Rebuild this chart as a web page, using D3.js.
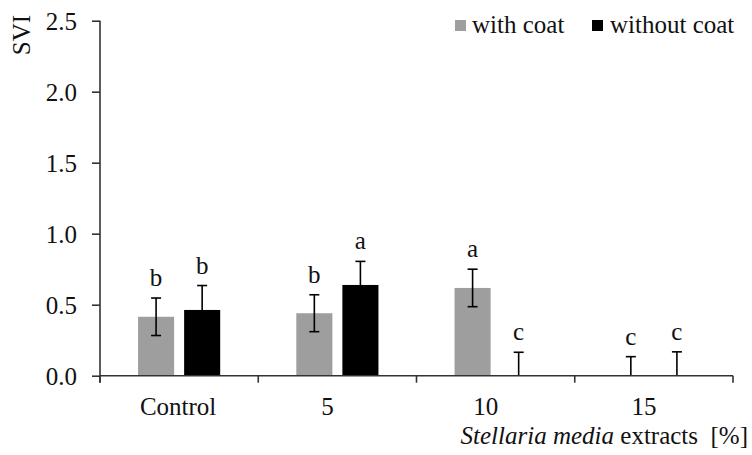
<!DOCTYPE html>
<html><head><meta charset="utf-8">
<script src="https://cdn.jsdelivr.net/npm/d3@7"></script>
</head>
<body style="margin:0;background:#fff">
<svg id="c" width="752" height="455" style="font-family:'Liberation Serif',serif"></svg>
<script>
const categories = ["Control", "5", "10", "15"];
const series = ["with coat", "without coat"];
const withCoat = [0.415, 0.44, 0.618, 0];
const withoutCoat = [0.463, 0.639, 0, 0];
const errWith = [0.132, 0.13, 0.132, 0.134];
const errWithout = [0.172, 0.166, 0.165, 0.168];
const lettersWith = ["b", "b", "a", "c"];
const lettersWithout = ["b", "a", "c", "c"];
const yTicks = [0, 0.5, 1.0, 1.5, 2.0, 2.5];
const colors = ["#9e9e9e", "#000000"];

(function () {
const svg = d3.select("#c");
const mLeft = 100, mRight = 733, mTop = 20.7, mBottom = 375.7;
const x = d3.scaleBand().domain(categories).range([mLeft, mRight]).padding(0);
const xs = d3.scaleBand().domain(series).range([0, x.bandwidth()]).paddingInner(0.217).paddingOuter(0.826);
const y = d3.scaleLinear().domain([0, 2.5]).range([mBottom, mTop]);

function txt(sel) {
  return sel.attr("font-family", "Liberation Serif").attr("font-size", 25)
    .style("font-family", "'Liberation Serif', serif", "important")
    .style("font-size", "25px").style("fill", "#111");
}

const data = [];
categories.forEach((c, i) => {
  data.push({c, s: series[0], v: withCoat[i], e: errWith[i], l: lettersWith[i]});
  data.push({c, s: series[1], v: withoutCoat[i], e: errWithout[i], l: lettersWithout[i]});
});

// bars
svg.append("g").selectAll("rect").data(data.filter(d => d.v > 0)).join("rect")
  .attr("x", d => x(d.c) + xs(d.s))
  .attr("width", xs.bandwidth())
  .attr("y", d => y(d.v))
  .attr("height", d => y(0) - y(d.v))
  .attr("fill", d => colors[series.indexOf(d.s)]);

// error bars
const eg = svg.append("g").attr("stroke", "#000").attr("stroke-width", 1.6);
data.forEach(d => {
  const cx = x(d.c) + xs(d.s) + xs.bandwidth() / 2;
  const lo = Math.max(0, d.v - d.e), hi = d.v + d.e;
  eg.append("line").attr("x1", cx).attr("x2", cx).attr("y1", y(lo)).attr("y2", y(hi));
  eg.append("line").attr("x1", cx - 5).attr("x2", cx + 5).attr("y1", y(hi)).attr("y2", y(hi));
  if (d.v - d.e > 0) eg.append("line").attr("x1", cx - 5).attr("x2", cx + 5).attr("y1", y(lo)).attr("y2", y(lo));
  txt(svg.append("text").attr("x", cx).attr("y", y(hi) - 12).attr("text-anchor", "middle")).text(d.l);
});

// y axis
const yAxis = d3.axisLeft(y).tickValues(yTicks).tickFormat(d3.format(".1f")).tickSizeOuter(0).tickSize(8).tickPadding(15);
const gy = svg.append("g").attr("transform", `translate(${mLeft},0)`).call(yAxis);
gy.attr("font-family", null).attr("font-size", null);
gy.select(".domain").remove();
gy.selectAll(".tick line").attr("stroke", "#333").attr("stroke-width", 1.6);
txt(gy.selectAll(".tick text")).attr("dy", "0.35em");
svg.append("line").attr("x1", mLeft).attr("x2", mLeft).attr("y1", y(2.5)).attr("y2", mBottom + 7)
  .attr("stroke", "#333").attr("stroke-width", 1.6);

// x axis
svg.append("line").attr("x1", mLeft).attr("x2", mRight).attr("y1", mBottom).attr("y2", mBottom)
  .attr("stroke", "#333").attr("stroke-width", 1.6);
const edges = categories.map(c => x(c)).concat([x(categories[categories.length - 1]) + x.bandwidth()]);
svg.append("g").selectAll("line").data(edges).join("line")
  .attr("x1", d => d).attr("x2", d => d).attr("y1", mBottom).attr("y2", mBottom + 7)
  .attr("stroke", "#333").attr("stroke-width", 1.6);
txt(svg.append("g").selectAll("text").data(categories).join("text")
  .attr("x", d => x(d) + x.bandwidth() / 2 + (isNaN(+d) ? -1 : -10))
  .attr("y", 415).attr("text-anchor", "middle")).text(d => d);

// x title
const xt = txt(svg.append("text").attr("x", 748).attr("y", 444).attr("text-anchor", "end"));
xt.append("tspan").style("font-style", "italic").text("Stellaria media");
xt.append("tspan").text(" extracts\u00a0 [%]");

// y title
txt(svg.append("text").attr("transform", "translate(30,35) rotate(-90)").attr("text-anchor", "middle")).text("SVI");

// legend
const leg = [{x: 455, tx: 472}, {x: 592, tx: 610}];
leg.forEach((l, i) => {
  svg.append("rect").attr("x", l.x).attr("y", 20).attr("width", 11).attr("height", 11).attr("fill", colors[i]);
  txt(svg.append("text").attr("x", l.tx).attr("y", 33)).text(series[i]);
});
})();
</script></body></html>
